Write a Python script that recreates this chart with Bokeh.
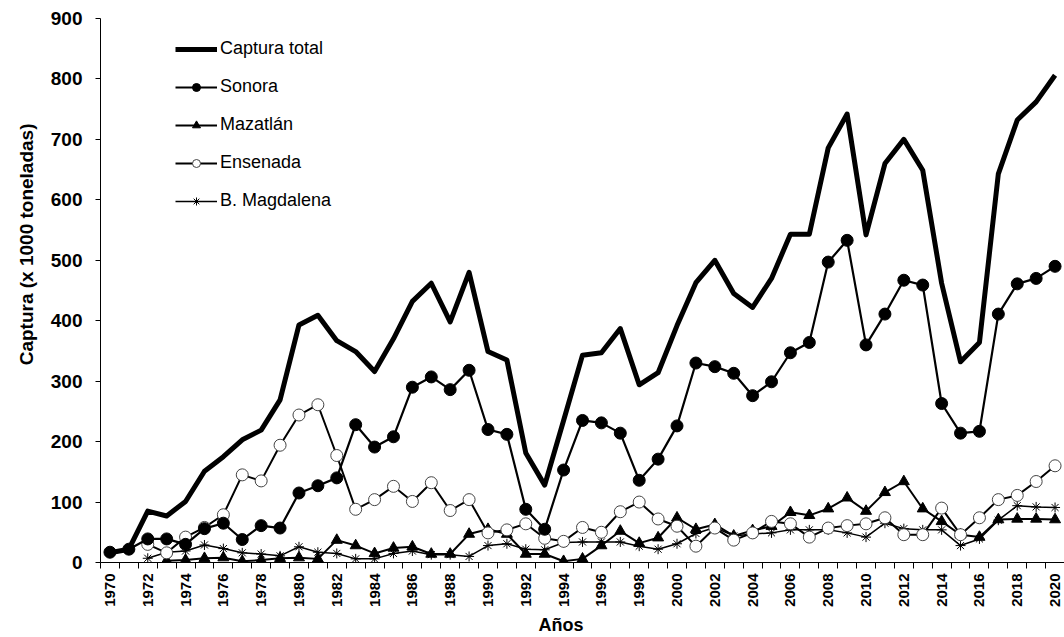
import math
import numpy as np
from bokeh.plotting import figure
from bokeh.models import FixedTicker, Legend, LegendItem, Range1d, ColumnDataSource, Title
from bokeh.embed import file_html
from bokeh.resources import INLINE

years = list(range(1970, 2021))

captura_total = [16, 22, 85, 77, 101, 151, 175, 203, 219, 269,
                 393, 409, 367, 349, 316, 370, 432, 462, 398, 480,
                 349, 335, 181, 128, 235, 343, 347, 387, 294, 314,
                 392, 463, 500, 445, 422, 470, 543, 543, 686, 742,
                 542, 660, 700, 649, 462, 332, 364, 643, 732, 762, 806]

sonora = [17, 22, 39, 39, 30, 56, 65, 38, 61, 57,
          115, 127, 140, 228, 191, 208, 290, 307, 286, 318,
          220, 212, 88, 55, 153, 235, 231, 214, 136, 171,
          226, 330, 324, 313, 276, 299, 347, 364, 497, 533,
          360, 411, 467, 459, 263, 214, 217, 411, 461, 470, 490]

mazatlan = [None, None, None, 3, 4, 7, 8, 2, 4, 7,
            8, 6, 37, 28, 15, 24, 26, 14, 14, 47,
            55, 47, 14, 14, 2, 6, 28, 52, 32, 41,
            74, 55, 63, 44, 53, 60, 83, 78, 89, 107,
            85, 116, 134, 89, 68, 46, 42, 71, 72, 72, 71]

ensenada = [None, None, 30, 16, 42, 58, 79, 145, 135, 194,
            244, 261, 177, 88, 104, 126, 101, 132, 86, 104,
            49, 54, 64, 40, 35, 58, 50, 84, 100, 72,
            60, 27, 57, 37, 49, 68, 64, 42, 57, 61,
            64, 74, 46, 46, 90, 46, 74, 104, 111, 134, 160]

magdalena = [None, None, 7, 17, 19, 29, 23, 16, 14, 11,
             26, 17, 15, 6, 6, 15, 19, 13, 13, 10,
             28, 31, 22, 21, 33, 34, 34, 34, 27, 22,
             31, 48, 58, 44, 47, 49, 54, 54, 54, 49,
             42, 65, 56, 54, 54, 28, 39, 70, 94, 92, 91]

y_ticks = list(range(0, 901, 100))
x_label_years = years[::2]

FONT = "Liberation Sans"

src = ColumnDataSource(dict(
    year=years,
    total=np.array(captura_total, dtype=float),
    sonora=np.array(sonora, dtype=float),
    mazatlan=np.array(mazatlan, dtype=float),
    ensenada=np.array(ensenada, dtype=float),
    magdalena=np.array(magdalena, dtype=float),
))

p = figure(width=1064, height=637, output_backend="svg", toolbar_location=None,
           x_range=Range1d(years[0] - 0.5, years[-1] + 0.5),
           y_range=Range1d(y_ticks[0], y_ticks[-1]),
           min_border_left=100, min_border_right=0, min_border_top=18, min_border_bottom=74)
p.xgrid.visible = False
p.ygrid.visible = False
p.outline_line_color = None
p.background_fill_color = "white"
p.border_fill_color = "white"

# x axis
xa = p.xaxis[0]
xa.ticker = FixedTicker(ticks=x_label_years, minor_ticks=[y - 0.5 for y in years + [years[-1] + 1]])
xa.major_tick_line_color = None
xa.major_tick_out = 5
xa.major_tick_in = 0
xa.minor_tick_out = 6
xa.minor_tick_in = 0
xa.minor_tick_line_color = "black"
xa.axis_line_color = "black"
xa.major_label_orientation = math.pi / 2
xa.major_label_standoff = 5
xa.major_label_text_font = FONT
xa.major_label_text_font_style = "bold"
xa.major_label_text_font_size = "15px"
xa.major_label_text_color = "black"

# y axis
ya = p.yaxis[0]
ya.ticker = FixedTicker(ticks=y_ticks)
ya.major_tick_out = 5
ya.major_tick_in = 0
ya.minor_tick_line_color = None
ya.axis_line_color = "black"
ya.major_tick_line_color = "black"
ya.major_label_standoff = 13
ya.major_label_text_font = FONT
ya.major_label_text_font_style = "bold"
ya.major_label_text_font_size = "19px"
ya.major_label_text_color = "black"

# series
l_mag = p.line("year", "magdalena", source=src, line_color="black", line_width=1.5)
s_mag = p.scatter("year", "magdalena", source=src, marker="asterisk", size=10,
                  line_color="black", line_width=1)
l_maz = p.line("year", "mazatlan", source=src, line_color="black", line_width=2)
s_maz = p.scatter("year", "mazatlan", source=src, marker="triangle", size=11,
                  line_color="black", fill_color="black")
l_ens = p.line("year", "ensenada", source=src, line_color="black", line_width=2)
s_ens = p.scatter("year", "ensenada", source=src, marker="circle", size=12,
                  line_color="#444444", fill_color="white", line_width=1)
l_son = p.line("year", "sonora", source=src, line_color="black", line_width=2.2)
s_son = p.scatter("year", "sonora", source=src, marker="circle", size=12,
                  line_color="black", fill_color="black")
l_tot = p.line("year", "total", source=src, line_color="black", line_width=5,
               line_join="round")

legend = Legend(items=[
    LegendItem(label="Captura total", renderers=[l_tot]),
    LegendItem(label="Sonora", renderers=[l_son, s_son]),
    LegendItem(label="Mazatlán", renderers=[l_maz, s_maz]),
    LegendItem(label="Ensenada", renderers=[l_ens, s_ens]),
    LegendItem(label="B. Magdalena", renderers=[l_mag, s_mag]),
], location=(75, 351))
legend.background_fill_alpha = 0
legend.border_line_color = None
legend.padding = 0
legend.margin = 0
legend.spacing = 17
legend.glyph_width = 42
legend.glyph_height = 20
legend.label_height = 20
legend.label_standoff = 3
legend.label_text_font = FONT
legend.label_text_font_size = "18px"
legend.label_text_color = "black"
legend.label_text_baseline = "middle"
p.add_layout(legend)

ytitle = Title(text="Captura (x 1000 toneladas)", align="right", offset=105,
               standoff=22, text_font=FONT, text_font_style="bold",
               text_font_size="19px", text_color="black")
p.add_layout(ytitle, "left")

xtitle = Title(text="Años", align="left", offset=438, standoff=6,
               text_font=FONT, text_font_style="bold",
               text_font_size="18px", text_color="black")
p.add_layout(xtitle, "below")

open("out.html", "w").write(file_html(p, INLINE))
